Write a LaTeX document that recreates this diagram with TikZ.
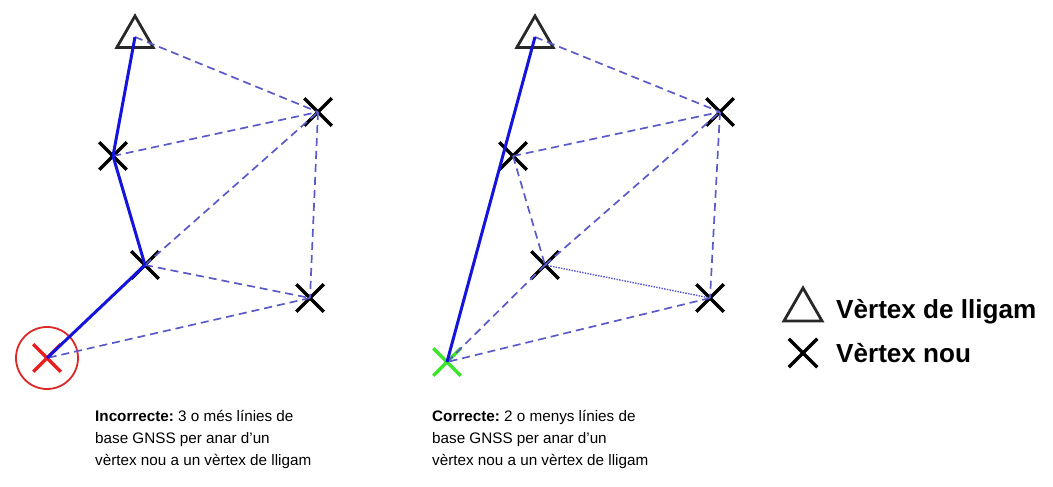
\documentclass[tikz,border=0pt]{standalone}
\usepackage{fontspec}
\setmainfont{Liberation Sans}
\frenchspacing
\usetikzlibrary{shapes.geometric,shapes.misc}
\definecolor{solidblue}{RGB}{20,20,220}
\definecolor{dashblue}{RGB}{90,90,200}
\definecolor{trigray}{RGB}{40,40,40}
\definecolor{ringred}{RGB}{220,40,40}
\definecolor{xred}{RGB}{235,30,30}
\definecolor{xgreen}{RGB}{60,230,40}
\begin{document}
\begin{tikzpicture}[x=1bp,y=-1bp,
  solidline/.style={draw=solidblue,line width=3bp},
  dashline/.style={draw=dashblue,line width=1.7bp,dash pattern=on 8bp off 5bp},
  dotline/.style={draw=dashblue,line width=1.4bp,dash pattern=on 1.5bp off 1.2bp},
  xv/.style={cross out,draw=#1,line width=3.5bp,minimum size=24bp,inner sep=0pt},
  xv/.default=black,
  tri/.style={regular polygon,regular polygon sides=3,draw=trigray,line width=2.8bp,minimum size=42bp,inner sep=0pt},
  ring/.style={circle,draw=ringred,line width=1.8bp,minimum size=62bp,inner sep=0pt},
  captext/.style={anchor=north west,align=left,font=\fontsize{15.3}{22}\selectfont,inner sep=0pt},
  legtext/.style={anchor=west,font=\fontsize{26.2}{28}\selectfont\bfseries,inner sep=0pt}
]
\useasboundingbox (0,0) rectangle (1053,487);
% ---------- left (incorrect) ----------
\node[tri] (T1) at (135,37) {};
\node[xv] (A1) at (318,112) {};
\node[xv] (B1) at (113,156) {};
\node[xv] (C1) at (145,265) {};
\node[xv] (D1) at (310,298) {};
\node[ring] (R1) at (47,358) {};
\node[xv=xred] (E1) at (47,358) {};
\draw[dashline] (T1.center) -- (A1.center);
\draw[dashline] (B1.center) -- (A1.center);
\draw[dashline] (C1.center) -- (A1.center);
\draw[dashline] (A1.center) -- (D1.center);
\draw[dashline] (C1.center) -- (D1.center);
\draw[dashline] (D1.center) -- (E1.center);
\draw[solidline] (T1.center) -- (B1.center);
\draw[solidline] (B1.center) -- (C1.center);
\draw[solidline] (C1.center) -- (E1.center);
\node[captext] (cap1) at (95,410) {\textbf{Incorrecte:} 3 o més línies de\\base GNSS per anar d’un\\vèrtex nou a un vèrtex de lligam};
% ---------- right (correct) ----------
\node[tri] (T2) at (535,37) {};
\node[xv] (A2) at (720,112) {};
\node[xv] (B2) at (513,156) {};
\node[xv] (C2) at (545,265) {};
\node[xv] (D2) at (710,298) {};
\node[xv=xgreen] (E2) at (447,362) {};
\draw[dashline] (T2.center) -- (A2.center);
\draw[dashline] (B2.center) -- (A2.center);
\draw[dashline] (B2.center) -- (C2.center);
\draw[dashline] (C2.center) -- (A2.center);
\draw[dashline] (A2.center) -- (D2.center);
\draw[dashline] (C2.center) -- (E2.center);
\draw[dashline] (D2.center) -- (E2.center);
\draw[dotline] (C2.center) -- (D2.center);
\draw[solidline] (T2.center) -- (E2.center);
\node[captext] (cap2) at (432,410) {\textbf{Correcte:} 2 o menys línies de\\base GNSS per anar d’un\\vèrtex nou a un vèrtex de lligam};
% ---------- legend ----------
\node[tri,minimum size=44bp] (LT) at (803,310) {};
\node[xv,minimum size=25bp] (LX) at (803,353) {};
\node[legtext] (L1) at (836,312) {Vèrtex de lligam};
\node[legtext] (L2) at (836,353) {Vèrtex nou};
\end{tikzpicture}
\end{document}
